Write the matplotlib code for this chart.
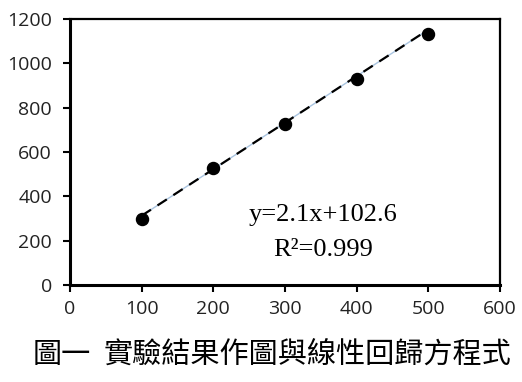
import numpy as np
import matplotlib.pyplot as plt

# data
x = [100, 200, 300, 400, 500]
y = [298, 527, 726, 929, 1132]
slope = 2.1
intercept = 102.6
r2 = 0.999

xticks = [0, 100, 200, 300, 400, 500, 600]
yticks = [0, 200, 400, 600, 800, 1000, 1200]

cap_num = "圖一"
cap_text = "實驗結果作圖與線性回歸方程式"

fig = plt.figure(figsize=(5.22, 3.82), dpi=100)
ax = fig.add_axes([0.134, 0.254, 0.824, 0.696])

# trendline
xs = np.array([x[0], x[-1]])
ys = slope * xs + intercept
ax.plot(xs, ys, color="#a9c4e0", lw=1.0, zorder=1)
ax.plot(xs, ys, color="black", lw=1.6, dashes=(5, 3.5), zorder=2)

ax.scatter(x, y, s=75, color="black", zorder=3)

ax.set_xlim(0, 600)
ax.set_ylim(0, 1200)
ax.set_xticks(xticks)
ax.set_yticks(yticks)

for s in ["left", "bottom"]:
    ax.spines[s].set_linewidth(2.2)
for s in ["top", "right"]:
    ax.spines[s].set_linewidth(1.6)

ax.tick_params(direction="out", length=5, width=1.5, labelsize=14,
               colors="black")
ax.tick_params(axis="y", pad=8)
ax.tick_params(axis="x", pad=6)
for lab in ax.get_xticklabels() + ax.get_yticklabels():
    lab.set_fontfamily("Open Sans")
    lab.set_color("#222222")

ax.text(353, 318, f"y={slope}x+{intercept}", ha="center", va="center",
        fontsize=19, family="Liberation Serif")
ax.text(353, 160, f"R\u00b2={r2}", ha="center", va="center",
        fontsize=19, family="Liberation Serif")

fig.text(33 / 522, 1 - 355 / 382, cap_num, ha="left", va="center", fontsize=21,
         family=["Noto Sans CJK TC", "DejaVu Sans"])
fig.text(104 / 522, 1 - 355 / 382, cap_text, ha="left", va="center", fontsize=21,
         family=["Noto Sans CJK TC", "DejaVu Sans"])

fig.savefig("out.png", dpi=100)
